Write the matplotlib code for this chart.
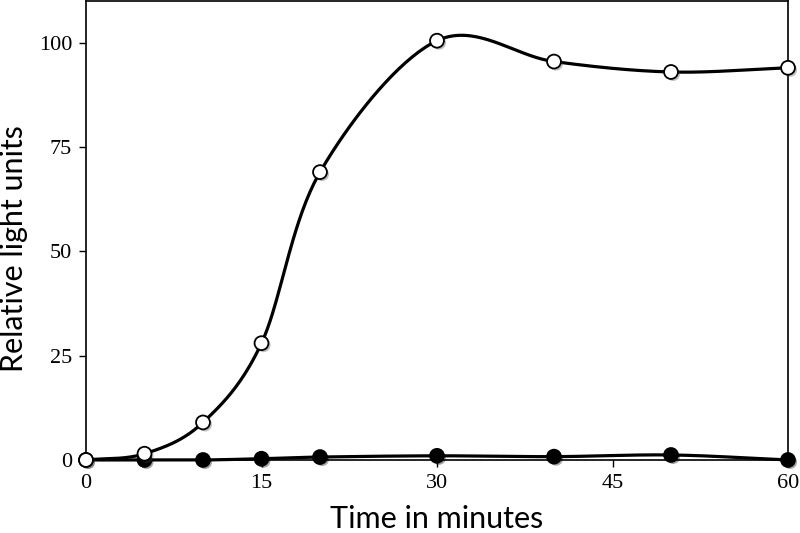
"""Luminescence time course: relative light units over time."""

import matplotlib
matplotlib.use("Agg")
import matplotlib.pyplot as plt
import matplotlib.patheffects as pe
import numpy as np

time_min = [0, 5, 10, 15, 20, 30, 40, 50, 60]
open_series = [0, 1.5, 9, 28, 69, 100.5, 95.5, 93, 94]
filled_series = [0, 0, 0, 0.3, 0.7, 1.0, 0.8, 1.2, 0]

x_ticks = [0, 15, 30, 45, 60]
y_ticks = [0, 25, 50, 75, 100]


def catmull_rom(x, y, n=40):
    """Smooth curve through the points (uniform Catmull-Rom)."""
    x = np.asarray(x, float)
    y = np.asarray(y, float)
    px = np.concatenate([[2 * x[0] - x[1]], x, [2 * x[-1] - x[-2]]])
    py = np.concatenate([[2 * y[0] - y[1]], y, [2 * y[-1] - y[-2]]])
    xs, ys = [], []
    t = np.linspace(0, 1, n)
    for i in range(1, len(px) - 2):
        for p, out in ((px, xs), (py, ys)):
            p0, p1, p2, p3 = p[i - 1], p[i], p[i + 1], p[i + 2]
            out.append(0.5 * ((2 * p1) + (-p0 + p2) * t
                              + (2 * p0 - 5 * p1 + 4 * p2 - p3) * t ** 2
                              + (-p0 + 3 * p1 - 3 * p2 + p3) * t ** 3))
    return np.concatenate(xs), np.concatenate(ys)


fig = plt.figure(figsize=(8, 5.33), dpi=100)
ax = fig.add_axes([0.1075, 0.137, 0.8775, 0.861])

shadow = [pe.SimplePatchShadow(offset=(1.5, -1.5), alpha=0.35), pe.Normal()]

for values, face in ((filled_series, "black"), (open_series, "white")):
    sx, sy = catmull_rom(time_min, values)
    ax.plot(sx, sy, color="black", lw=2.3, clip_on=False, zorder=3)
    ax.plot(time_min, values, "o", ms=10, mfc=face, mec="black", mew=1.3,
            clip_on=False, zorder=4, path_effects=shadow)

ax.set_xlim(0, 60)
ax.set_ylim(0, 110)
ax.set_xticks(x_ticks)
ax.set_yticks(y_ticks)
ax.tick_params(direction="out", length=5, width=1, labelsize=16, pad=5)
for lbl in ax.get_xticklabels() + ax.get_yticklabels():
    lbl.set_family("Liberation Serif")
for s in ax.spines.values():
    s.set_linewidth(1.2)

ax.set_xlabel("Time in minutes", fontsize=22, family="Lato", labelpad=9)
ax.set_ylabel("Relative light units", fontsize=22, family="Lato", labelpad=8)
ax.yaxis.set_label_coords(-0.083, 0.46)

fig.savefig("out.png", dpi=100)
